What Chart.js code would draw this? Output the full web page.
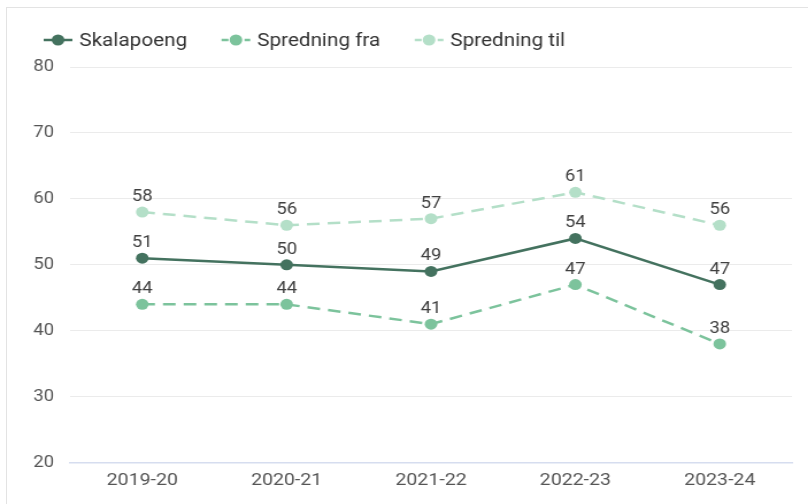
<!DOCTYPE html>
<html>
<head>
<meta charset="utf-8">
<script src="https://cdn.jsdelivr.net/npm/chart.js@4"></script>
<style>
html, body { margin: 0; padding: 0; background: #fff; overflow: hidden; }
#ramme { position: absolute; left: 6px; top: 7px; right: -2px; bottom: -2px; border-left: 1px solid #e3e3e3; border-top: 1px solid #e3e3e3; }
#boks { position: absolute; left: 0; top: 0; width: 703px; height: 504px; transform: scaleX(1.1494); transform-origin: 0 0; }
</style>
</head>
<body>
<div id="ramme"></div>
<div id="boks"><canvas id="graf" width="703" height="504"></canvas></div>
<script>
// data lest av bildet
const aar = ["2019-20", "2020-21", "2021-22", "2022-23", "2023-24"];
const skalapoeng = [51, 50, 49, 54, 47];
const spredningFra = [44, 44, 41, 47, 38];
const spredningTil = [58, 56, 57, 61, 56];
const yTicks = [20, 30, 40, 50, 60, 70, 80];

const farger = {
  skala: "#44725f",
  fra: "#7cc39c",
  til: "#b4dfc8",
};

Chart.defaults.font.family = "Roboto, sans-serif";

/* egen forklaring: strek + prikk + tekst */
const forklaring = {
  id: "forklaring",
  afterDraw(chart) {
    const ctx = chart.ctx;
    ctx.save();
    ctx.font = "18px Roboto";
    ctx.textBaseline = "middle";
    let x = 38;
    const y = 40;
    chart.data.datasets.forEach((ds) => {
      ctx.strokeStyle = ds.borderColor;
      ctx.fillStyle = ds.borderColor;
      ctx.lineWidth = 2.5;
      ctx.setLineDash(ds.borderDash && ds.borderDash.length ? [6, 4] : []);
      ctx.beginPath();
      ctx.moveTo(x, y);
      ctx.lineTo(x + 25, y);
      ctx.stroke();
      ctx.setLineDash([]);
      ctx.beginPath();
      ctx.arc(x + 12.5, y, 5.5, 0, Math.PI * 2);
      ctx.fill();
      ctx.fillStyle = "#333";
      ctx.fillText(ds.label, x + 31, y + 1);
      x += 31 + ctx.measureText(ds.label).width + 30;
    });
    ctx.restore();
  },
};

/* verdier over punktene */
const etiketter = {
  id: "etiketter",
  afterDatasetsDraw(chart) {
    const ctx = chart.ctx;
    ctx.save();
    ctx.font = "16px Roboto";
    ctx.fillStyle = "#404040";
    ctx.textAlign = "center";
    ctx.textBaseline = "middle";
    chart.data.datasets.forEach((ds, i) => {
      chart.getDatasetMeta(i).data.forEach((pkt, j) => {
        ctx.fillText(ds.data[j], pkt.x, pkt.y - 15);
      });
    });
    ctx.restore();
  },
};

const lagSerie = (navn, verdier, farge, stiplet) => ({
  label: navn,
  data: verdier,
  borderColor: farge,
  backgroundColor: farge,
  borderWidth: 2.5,
  borderDash: stiplet ? [11, 7] : [],
  pointRadius: 5.5,
  pointHoverRadius: 5.5,
  pointBorderWidth: 0,
  tension: 0,
});

new Chart(document.getElementById("graf"), {
  type: "line",
  data: {
    labels: aar,
    datasets: [
      lagSerie("Skalapoeng", skalapoeng, farger.skala, false),
      lagSerie("Spredning fra", spredningFra, farger.fra, true),
      lagSerie("Spredning til", spredningTil, farger.til, true),
    ],
  },
  options: {
    responsive: false,
    animation: false,
    layout: { padding: { left: 15, right: 14, top: 67, bottom: 5 } },
    plugins: {
      legend: { display: false },
      tooltip: { enabled: false },
    },
    scales: {
      x: {
        offset: true,
        grid: { display: false, drawTicks: false },
        border: { color: "#d6ddef", width: 1.5 },
        ticks: { color: "#555", font: { size: 17 }, padding: 8 },
      },
      y: {
        min: yTicks[0],
        max: yTicks[yTicks.length - 1],
        ticks: { stepSize: 10, color: "#555", font: { size: 16 }, padding: 14 },
        grid: { color: "#ebebeb", drawTicks: false },
        border: { display: false },
      },
    },
  },
  plugins: [forklaring, etiketter],
});
</script>
</body>
</html>
